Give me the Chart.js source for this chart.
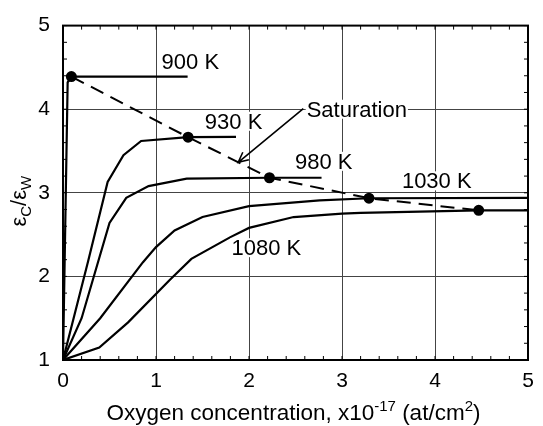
<!DOCTYPE html>
<html>
<head>
<meta charset="utf-8">
<script src="https://cdn.jsdelivr.net/npm/chart.js@4.4.1/dist/chart.umd.min.js"></script>
<style>
  html, body { margin: 0; padding: 0; background: #fff; }
  #wrap { width: 543px; height: 426px; }
</style>
</head>
<body>
<div id="wrap"><canvas id="chart"></canvas></div>
<script>
const FONT = "'Liberation Sans', Arial, sans-serif";

// curves
const x900 = [0, 0.05, 0.09, 1.34];
const y900 = [1, 4.32, 4.39, 4.39];

const x930 = [0, 0.27, 0.48, 0.65, 0.84, 1.345, 1.86];
const y930 = [1, 2.18, 3.13, 3.45, 3.62, 3.665, 3.67];

const x980 = [0, 0.2, 0.5, 0.68, 0.92, 1.33, 2.22, 2.78];
const y980 = [1, 1.5, 2.64, 2.94, 3.08, 3.17, 3.18, 3.18];

const x1030 = [0, 0.4, 0.86, 1.0, 1.2, 1.5, 2.0, 2.76, 3.29, 5];
const y1030 = [1, 1.5, 2.17, 2.35, 2.55, 2.71, 2.84, 2.91, 2.935, 2.94];

const x1080 = [0, 0.39, 0.7, 1.15, 1.38, 1.8, 2.0, 2.48, 3.0, 3.2, 4.47, 5];
const y1080 = [1, 1.15, 1.45, 1.96, 2.21, 2.47, 2.58, 2.71, 2.75, 2.76, 2.79, 2.79];

// saturation points
const xSat = [0.09, 1.345, 2.22, 3.29, 4.47];
const ySat = [4.39, 3.665, 3.18, 2.935, 2.79];

// annotation text and where it sits (data units)
const curveLabels = ["900 K", "930 K", "980 K", "1030 K", "1080 K"];
const labelX = [1.06, 1.525, 2.495, 3.644, 1.812];
const labelY = [4.476, 3.766, 3.287, 3.053, 2.254];
const satText = "Saturation";
const satTextAt = [2.62, 3.91];
const satArrowFrom = [2.584, 4.008];
const satArrowTo = [1.884, 3.365];

const xMin = 0, xMax = 5, yMin = 1, yMax = 5;

function pts(xs, ys) {
  return xs.map((v, i) => ({ x: v, y: ys[i] }));
}

function curve(xs, ys) {
  return {
    data: pts(xs, ys),
    showLine: true,
    borderColor: "#000",
    borderWidth: 2.2,
    pointRadius: 0,
    tension: 0,
  };
}

// draw a run of [text, size, shift] pieces starting at x, baseline 0
function richText(ctx, parts, startX) {
  let cx = startX;
  parts.forEach(([t, size, shift]) => {
    ctx.font = size + "px " + FONT;
    ctx.fillText(t, cx, shift);
    cx += ctx.measureText(t).width;
  });
}
function richWidth(ctx, parts) {
  let w = 0;
  parts.forEach(([t, size]) => {
    ctx.font = size + "px " + FONT;
    w += ctx.measureText(t).width;
  });
  return w;
}

const decor = {
  id: "decor",
  afterDatasetsDraw(chart) {
    const { ctx, chartArea: a, scales } = chart;
    const sx = scales.x, sy = scales.y;
    ctx.save();

    // frame
    ctx.strokeStyle = "#000";
    ctx.lineWidth = 2;
    ctx.strokeRect(a.left, a.top, a.right - a.left, a.bottom - a.top);

    // inner minor ticks every 0.2
    ctx.lineWidth = 1;
    ctx.beginPath();
    for (let i = 0; i <= 25; i++) {
      const px = sx.getPixelForValue(xMin + i * 0.2);
      ctx.moveTo(px, a.bottom); ctx.lineTo(px, a.bottom - 4);
      ctx.moveTo(px, a.top); ctx.lineTo(px, a.top + 4);
    }
    for (let i = 0; i <= 20; i++) {
      const py = sy.getPixelForValue(yMin + i * 0.2);
      ctx.moveTo(a.left, py); ctx.lineTo(a.left + 4, py);
      ctx.moveTo(a.right, py); ctx.lineTo(a.right - 4, py);
    }
    ctx.stroke();

    // curve labels on white boxes
    ctx.font = "22px " + FONT;
    ctx.textBaseline = "alphabetic";
    ctx.textAlign = "left";
    const boxed = (t, vx, vy) => {
      const px = sx.getPixelForValue(vx);
      const py = sy.getPixelForValue(vy);
      const w = ctx.measureText(t).width;
      ctx.fillStyle = "#fff";
      ctx.fillRect(px - 1, py - 17, w + 2, 19);
      ctx.fillStyle = "#000";
      ctx.fillText(t, px, py);
    };
    curveLabels.forEach((t, i) => boxed(t, labelX[i], labelY[i]));
    boxed(satText, satTextAt[0], satTextAt[1]);

    // saturation arrow
    const x0 = sx.getPixelForValue(satArrowFrom[0]), y0 = sy.getPixelForValue(satArrowFrom[1]);
    const x1 = sx.getPixelForValue(satArrowTo[0]), y1 = sy.getPixelForValue(satArrowTo[1]);
    const ang = Math.atan2(y1 - y0, x1 - x0);
    ctx.strokeStyle = "#000";
    ctx.lineWidth = 1.6;
    ctx.beginPath();
    ctx.moveTo(x0, y0); ctx.lineTo(x1, y1);
    ctx.moveTo(x1 - 11 * Math.cos(ang - 0.45), y1 - 11 * Math.sin(ang - 0.45));
    ctx.lineTo(x1, y1);
    ctx.lineTo(x1 - 11 * Math.cos(ang + 0.45), y1 - 11 * Math.sin(ang + 0.45));
    ctx.stroke();

    // x axis title
    ctx.fillStyle = "#000";
    const xt = [
      ["Oxygen concentration, x10", 22.5, 0],
      ["-17", 15, -9],
      [" (at/cm", 22.5, 0],
      ["2", 15, -9],
      [")", 22.5, 0],
    ];
    ctx.save();
    ctx.translate((a.left + a.right) / 2 - 2, 420);
    richText(ctx, xt, -richWidth(ctx, xt) / 2);
    ctx.restore();

    // y axis title
    const yt = [
      ["\u03b5", 22, 0],
      ["C", 15, 5],
      ["/", 22, 0],
      ["\u03b5", 22, 0],
      ["W", 15, 5],
    ];
    ctx.save();
    ctx.translate(a.left - 37, sy.getPixelForValue(2.9));
    ctx.rotate(-Math.PI / 2);
    richText(ctx, yt, -richWidth(ctx, yt) / 2);
    ctx.restore();

    ctx.restore();
  },
};

new Chart(document.getElementById("chart"), {
  type: "scatter",
  data: {
    datasets: [
      curve(x900, y900),
      curve(x930, y930),
      curve(x980, y980),
      curve(x1030, y1030),
      curve(x1080, y1080),
      {
        data: pts(xSat, ySat),
        showLine: true,
        borderColor: "#000",
        borderWidth: 2,
        borderDash: [14, 8],
        pointRadius: 4.5,
        pointBackgroundColor: "#000",
        pointBorderColor: "#000",
        tension: 0,
      },
    ],
  },
  options: {
    responsive: true,
    maintainAspectRatio: false,
    animation: false,
    layout: { padding: { top: 18, right: 15, left: 0, bottom: 0 } },
    plugins: { legend: { display: false }, tooltip: { enabled: false } },
    scales: {
      x: {
        type: "linear",
        min: xMin,
        max: xMax,
        afterFit: (s) => { s.height = 66; },
        ticks: { stepSize: 1, color: "#000", padding: 9, font: { family: FONT, size: 21 } },
        grid: { color: "#444", lineWidth: 1, drawTicks: false },
        border: { color: "#000", width: 2 },
      },
      y: {
        type: "linear",
        min: yMin,
        max: yMax,
        afterFit: (s) => { s.width = 63; },
        ticks: { stepSize: 1, color: "#000", padding: 13, font: { family: FONT, size: 21 } },
        grid: { color: "#444", lineWidth: 1, drawTicks: false },
        border: { color: "#000", width: 2 },
      },
    },
  },
  plugins: [decor],
});
</script>
</body>
</html>
